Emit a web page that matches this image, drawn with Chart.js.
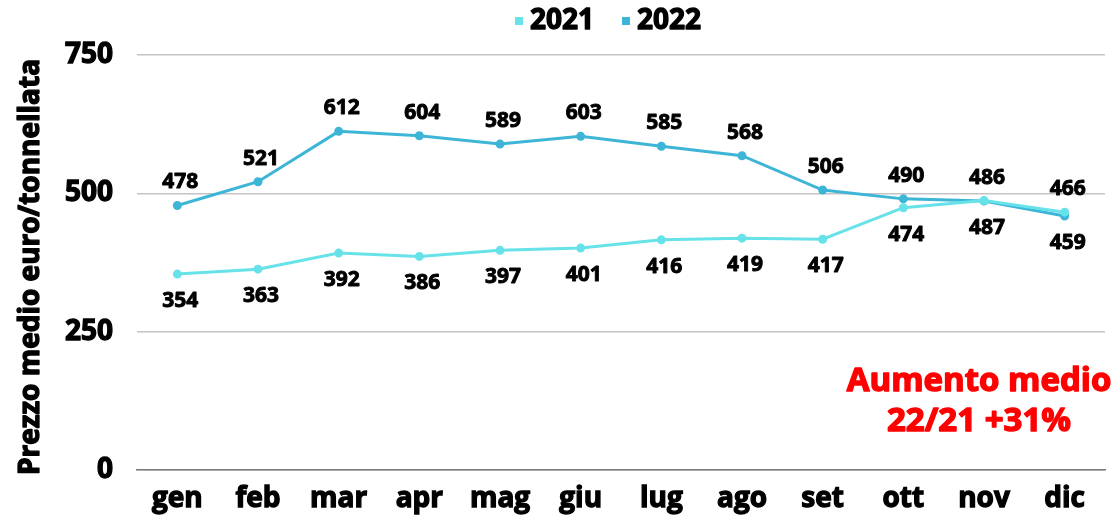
<!DOCTYPE html>
<html>
<head>
<meta charset="utf-8">
<script src="https://cdn.jsdelivr.net/npm/chart.js@4"></script>
<style>
  html, body { margin: 0; padding: 0; background: #fff; }
  #wrap { width: 1111px; height: 517px; }
</style>
</head>
<body>
<div id="wrap"><canvas id="prezzi" width="1111" height="517"></canvas></div>
<script>
// mesi e prezzi medi (euro/tonnellata)
const mesi = ['gen', 'feb', 'mar', 'apr', 'mag', 'giu', 'lug', 'ago', 'set', 'ott', 'nov', 'dic'];
const prezzi2021 = [354, 363, 392, 386, 397, 401, 416, 419, 417, 474, 487, 466];
const prezzi2022 = [478, 521, 612, 604, 589, 603, 585, 568, 506, 490, 486, 459];
const yTicks = [0, 250, 500, 750];

const FONT = "'Open Sans', 'DejaVu Sans', sans-serif";
const col2021 = '#66e2e8';
const col2022 = '#3db5d6';

// testo "extra bold": riempimento + contorno sottile
function testo(ctx, s, x, y, colore, size, stroke) {
  ctx.font = '700 ' + size + 'px ' + FONT;
  ctx.fillStyle = colore;
  ctx.strokeStyle = colore;
  ctx.lineWidth = stroke;
  ctx.lineJoin = 'round';
  ctx.strokeText(s, x, y);
  ctx.fillText(s, x, y);
}

// etichette dei valori sopra/sotto i punti
const etichette = {
  id: 'etichette',
  afterDatasetsDraw(chart) {
    const ctx = chart.ctx;
    ctx.save();
    ctx.textAlign = 'center';
    ctx.textBaseline = 'middle';
    chart.data.datasets.forEach((ds, d) => {
      chart.getDatasetMeta(d).data.forEach((pt, i) => {
        const last = i === ds.data.length - 1;
        const sopra = d === 1 ? !last : last;
        testo(ctx, String(ds.data[i]), pt.x + 3, pt.y + (sopra ? -23 : 27), '#000', 21, 0.9);
      });
    });
    ctx.restore();
  }
};

// legenda, titolo asse y e nota in rosso
const decorazioni = {
  id: 'decorazioni',
  afterDraw(chart) {
    const ctx = chart.ctx;
    ctx.save();
    ctx.textBaseline = 'middle';

    // legenda
    ctx.textAlign = 'left';
    const voci = [['2021', col2021, 530], ['2022', col2022, 637]];
    voci.forEach(([nome, c, x]) => {
      ctx.fillStyle = c;
      ctx.fillRect(x - 15, 17, 8, 8);
      testo(ctx, nome, x, 21, '#000', 28, 1.3);
    });

    // titolo asse y
    ctx.save();
    ctx.translate(31, 267);
    ctx.rotate(-Math.PI / 2);
    ctx.textAlign = 'center';
    testo(ctx, 'Prezzo medio euro/tonnellata', 0, 0, '#000', 28, 1.3);
    ctx.restore();

    // nota
    ctx.textAlign = 'center';
    testo(ctx, 'Aumento medio', 979, 382, '#ff0000', 33, 1.4);
    testo(ctx, '22/21 +31%', 979, 422, '#ff0000', 33, 1.4);
    ctx.restore();
  }
};

const tickFont = { family: FONT, size: 28, weight: '700' };

const ctx = document.getElementById('prezzi').getContext('2d');
new Chart(ctx, {
  type: 'line',
  data: {
    labels: mesi,
    datasets: [{
      label: '2021',
      data: prezzi2021,
      borderColor: col2021,
      backgroundColor: col2021,
      borderWidth: 3,
      pointRadius: 3,
      pointHoverRadius: 3
    }, {
      label: '2022',
      data: prezzi2022,
      borderColor: col2022,
      backgroundColor: col2022,
      borderWidth: 3,
      pointRadius: 3,
      pointHoverRadius: 3
    }]
  },
  options: {
    responsive: false,
    animation: false,
    layout: { padding: { left: 0, right: 4, top: 55, bottom: 2 } },
    plugins: {
      legend: { display: false },
      tooltip: { enabled: false }
    },
    scales: {
      x: {
        offset: true,
        afterFit: axis => { axis.height = 45; },
        grid: { display: false },
        border: { display: true, color: '#7a7a7a', width: 1.5 },
        ticks: {
          color: '#000',
          padding: 4,
          font: tickFont,
          textStrokeColor: '#000',
          textStrokeWidth: 1.3
        }
      },
      y: {
        min: 0,
        max: 750,
        afterBuildTicks: axis => { axis.ticks = yTicks.map(v => ({ value: v })); },
        afterFit: axis => { axis.width = 137; },
        grid: { color: '#c4c4c4', lineWidth: 1.5, drawTicks: false },
        border: { display: false },
        ticks: {
          color: '#000',
          padding: 24,
          font: tickFont,
          textStrokeColor: '#000',
          textStrokeWidth: 1.3
        }
      }
    }
  },
  plugins: [etichette, decorazioni]
});
</script>
</body>
</html>
